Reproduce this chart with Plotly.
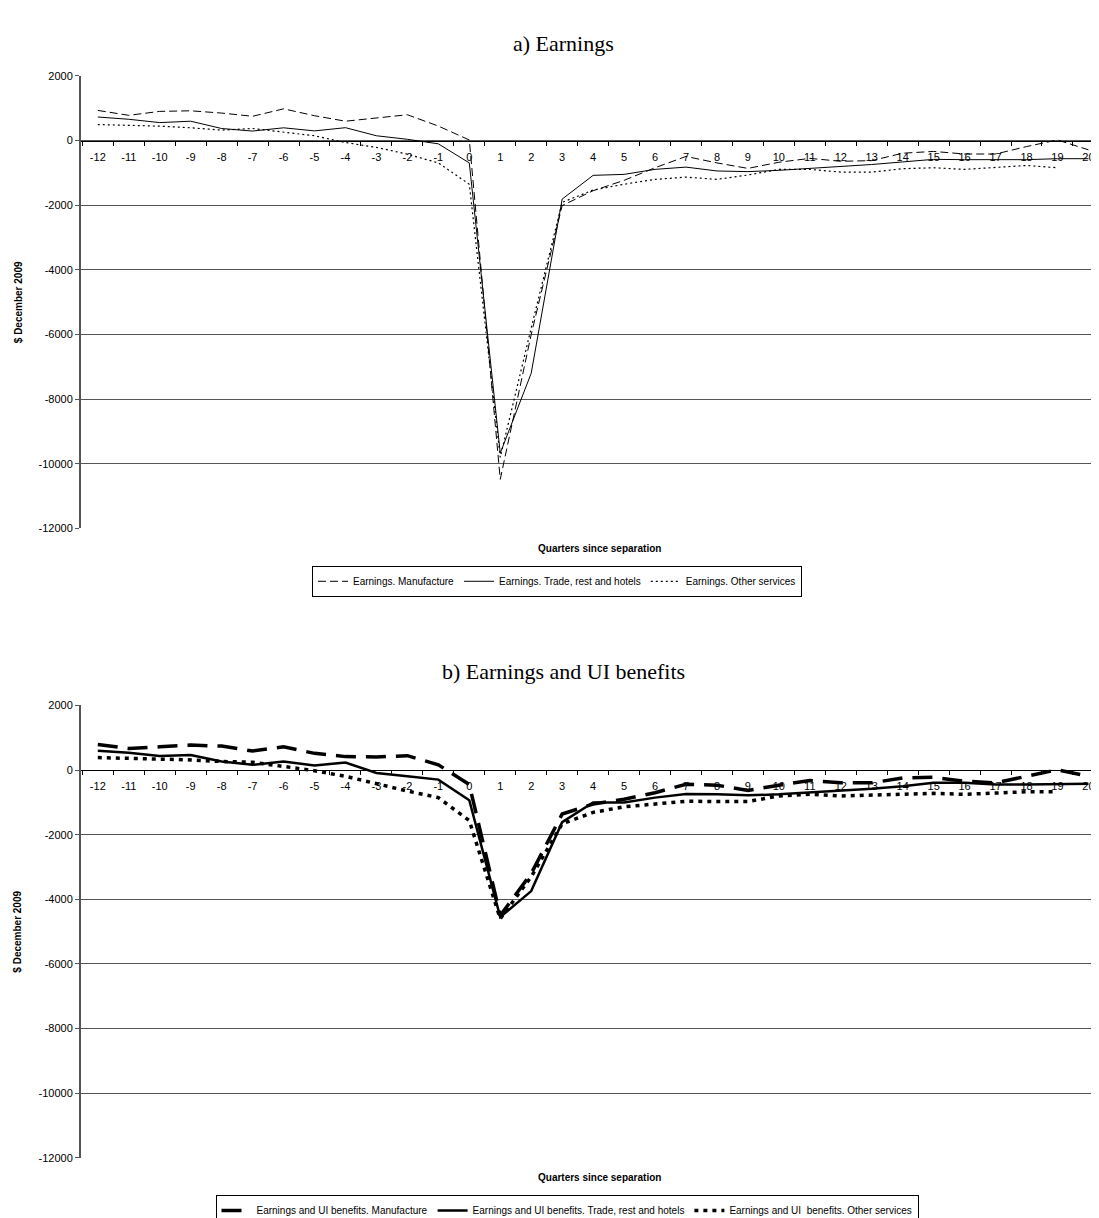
import plotly.graph_objects as go

quarters = [str(q) for q in range(-12, 21)]

# a) Earnings
manuf_a = [934, 782, 904, 922, 852, 752, 983, 770, 600, 700, 800, 450, 20,
           -10480, -6000, -2010, -1550, -1230, -840, -490, -690, -860, -670, -550,
           -640, -620, -390, -335, -415, -415, -185, 20, -285]
trade_a = [730, 660, 557, 600, 374, 295, 396, 300, 400, 150, 40, -100, -690,
           -9670, -7200, -1810, -1075, -1045, -890, -820, -940, -960, -920, -860,
           -810, -740, -660, -580, -590, -590, -590, -560, -560]
other_a = [496, 478, 447, 396, 325, 374, 253, 150, -60, -210, -420, -690, -1350,
           -9800, -5800, -1910, -1530, -1350, -1200, -1130, -1200, -1065, -890, -890,
           -975, -975, -870, -840, -890, -820, -770, -840, None]

# b) Earnings and UI benefits
manuf_b = [792, 670, 721, 773, 743, 590, 721, 518, 417, 406, 447, 164, -446,
           -4500, -3200, -1360, -1050, -900, -700, -440, -466, -629, -466, -324,
           -395, -395, -243, -223, -344, -395, -192, 10, -192]
trade_b = [600, 539, 438, 469, 265, 164, 265, 143, 234, -91, -192, -294, -932,
           -4550, -3744, -1613, -1004, -1004, -852, -740, -750, -781, -750, -700,
           -649, -578, -497, -395, -395, -446, -446, -426, -426]
other_b = [387, 365, 365, 316, 265, 244, 113, -20, -192, -426, -648, -852, -1562,
           -4600, -3300, -1663, -1309, -1136, -1054, -964, -974, -974, -801, -750,
           -801, -781, -740, -720, -750, -720, -669, -669, None]

names_a = ["Earnings. Manufacture", "Earnings. Trade, rest and hotels", "Earnings. Other services"]
names_b = ["Earnings and UI benefits. Manufacture", "Earnings and UI benefits. Trade, rest and hotels",
           "Earnings and UI  benefits. Other services"]
y_ticks = [2000, 0, -2000, -4000, -6000, -8000, -10000, -12000]

W, H = 1099, 1218
SANS = "Liberation Sans, Arial, sans-serif"
SERIF = "Liberation Serif, Times New Roman, serif"

fig = go.Figure()

styles_a = [dict(width=1, dash="8px,4px"), dict(width=1, dash="solid"), dict(width=1.2, dash="2px,3px")]
styles_b = [dict(width=3.5, dash="20px,10px"), dict(width=2.5, dash="solid"), dict(width=3.5, dash="4px,5px")]

for vals, nm, st in zip([manuf_a, trade_a, other_a], names_a, styles_a):
    fig.add_trace(go.Scatter(x=quarters, y=vals, name=nm, mode="lines",
                             line=dict(color="black", **st), xaxis="x", yaxis="y",
                             legend="legend"))
for vals, nm, st in zip([manuf_b, trade_b, other_b], names_b, styles_b):
    fig.add_trace(go.Scatter(x=quarters, y=vals, name=nm, mode="lines",
                             line=dict(color="black", **st), xaxis="x2", yaxis="y2",
                             legend="legend2"))

def py(px):
    return 1 - px / H

top_a, bot_a = 63, 523
top_b, bot_b = 703, 1163
yr = [-12000, 2000]
zero_frac = 12000 / 14000
xrange_cat = [-0.543, 32.6]

def yaxis_cfg(top, bot):
    return dict(domain=[py(bot), py(top)], range=yr, tickvals=y_ticks,
                ticktext=[str(v) for v in y_ticks],
                showgrid=True, gridcolor="#555555", gridwidth=1,
                showline=True, linecolor="#555555", linewidth=2,
                ticks="outside", ticklen=4, tickcolor="#555555",
                tickfont=dict(family=SANS, size=11, color="black"),
                zeroline=False, fixedrange=True)

def xaxis_cfg(top, bot):
    d0, d1 = py(bot), py(top)
    return dict(type="category", categoryorder="array", categoryarray=quarters,
                domain=[73 / W, 1], range=xrange_cat, anchor="free",
                position=d0 + zero_frac * (d1 - d0),
                showline=True, linecolor="black", linewidth=1,
                ticks="outside", ticklen=4, tickcolor="black", tickson="boundaries",
                ticklabelstandoff=6,
                tickfont=dict(family=SANS, size=11, color="black"),
                showgrid=False, zeroline=False, fixedrange=True)

fig.update_layout(
    width=W, height=H, margin=dict(l=0, r=0, t=0, b=0),
    paper_bgcolor="white", plot_bgcolor="white",
    xaxis=xaxis_cfg(top_a, bot_a), yaxis=yaxis_cfg(top_a, bot_a),
    xaxis2=xaxis_cfg(top_b, bot_b), yaxis2=yaxis_cfg(top_b, bot_b),
    legend=dict(orientation="h", x=549 / W, y=py(561), xanchor="center", yanchor="top",
                bordercolor="black", borderwidth=1, font=dict(family=SANS, size=10, color="black"),
                itemwidth=30, tracegroupgap=0),
    legend2=dict(orientation="h", x=559 / W, y=py(1201), xanchor="center", yanchor="top",
                 bordercolor="black", borderwidth=1, font=dict(family=SANS, size=10, color="black"),
                 itemwidth=30, tracegroupgap=0),
    showlegend=True,
)

annotations = [
    dict(text="a) Earnings", x=555 / W, y=py(30), font=dict(family=SERIF, size=22, color="black")),
    dict(text="b) Earnings and UI benefits", x=555 / W, y=py(668), font=dict(family=SERIF, size=22, color="black")),
    dict(text="<b>Quarters since separation</b>", x=591 / W, y=py(543), font=dict(family=SANS, size=10, color="black")),
    dict(text="<b>Quarters since separation</b>", x=591 / W, y=py(1183), font=dict(family=SANS, size=10, color="black")),
    dict(text="<b>$ December 2009</b>", x=10 / W, y=py((top_a + bot_a) / 2), textangle=-90,
         font=dict(family=SANS, size=10, color="black")),
    dict(text="<b>$ December 2009</b>", x=10 / W, y=py((top_b + bot_b) / 2), textangle=-90,
         font=dict(family=SANS, size=10, color="black")),
]
for a in annotations:
    a.update(xref="paper", yref="paper", showarrow=False, xanchor="center", yanchor="middle")
fig.update_layout(annotations=annotations)

fig.write_html("out.html")
